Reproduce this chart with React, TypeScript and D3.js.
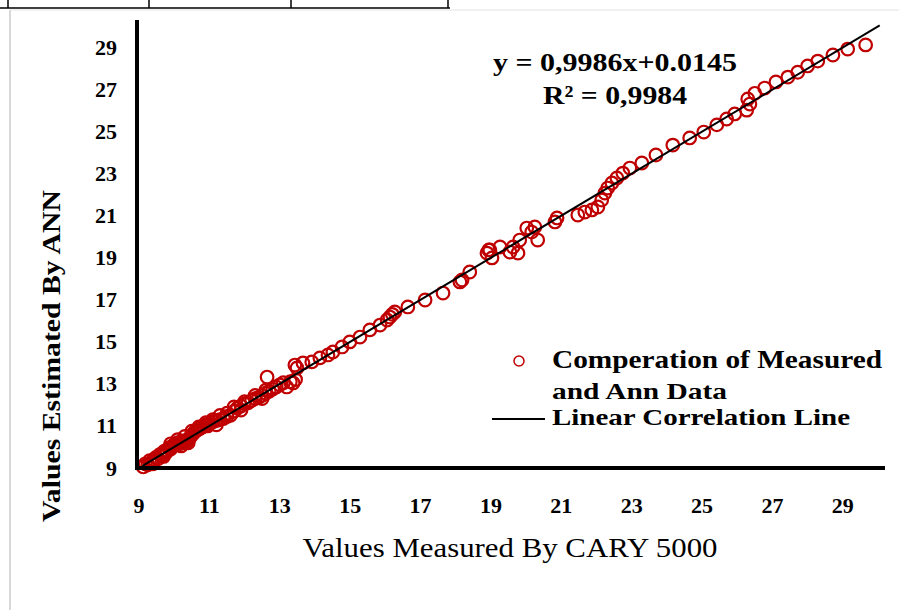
import React from "react";
import * as d3 from "d3";

const W = 899;
const H = 610;

const xTicks = [9, 11, 13, 15, 17, 19, 21, 23, 25, 27, 29];
const yTicks = [9, 11, 13, 15, 17, 19, 21, 23, 25, 27, 29];

const measured = [
  9.12, 9.18, 9.25, 9.3, 9.35, 9.42, 9.48, 9.55, 9.6, 9.66, 9.72, 9.78, 9.85, 9.9, 9.95, 10.0,
  10.05, 10.1, 10.15, 10.2, 10.25, 10.3, 10.35, 10.4, 10.45, 10.5, 10.55, 10.6, 10.65, 10.7,
  10.75, 10.8, 10.85, 10.9, 10.95, 11.0, 11.1, 11.2, 11.3, 11.4, 11.5, 11.6, 11.7, 11.8, 11.9,
  12.0, 12.1, 12.2, 12.3, 12.4, 12.5, 12.6, 12.7, 12.8, 12.9, 13.0, 13.1, 12.64, 13.2, 13.38,
  13.49, 13.43, 13.66, 13.91, 14.14, 14.37, 14.51, 14.77, 14.99, 15.28, 15.56, 15.85, 16.05,
  16.13, 16.27, 16.2, 16.64, 17.13, 17.64, 18.12, 18.18, 18.4, 18.89, 18.94, 18.97, 19.03,
  19.26, 19.54, 19.63, 19.77, 19.82, 20.02, 20.16, 20.25, 20.33, 20.82, 20.88, 21.47, 21.67,
  21.87, 22.04, 22.15, 22.24, 22.32, 22.44, 22.58, 22.75, 22.95, 23.29, 23.69, 24.17, 24.65,
  25.05, 25.42, 25.7, 25.93, 26.27, 26.36, 26.3, 26.5, 26.78, 27.1, 27.44, 27.72, 28.0, 28.29,
  28.72, 29.14, 29.65,
  9.9, 10.1, 10.3, 10.5, 10.7, 10.9, 11.1, 11.3, 11.5, 11.7, 12.0, 12.3, 12.6, 10.2, 10.4,
  9.7, 9.4, 11.2, 11.9, 12.5, 13.3, 13.45,
];

const estimated = [
  9.05, 9.2, 9.15, 9.35, 9.25, 9.4, 9.5, 9.45, 9.65, 9.6, 9.8, 9.75, 9.95, 9.9, 10.05, 10.1,
  10.15, 10.2, 10.15, 10.25, 10.2, 10.3, 10.25, 10.35, 10.45, 10.55, 10.65, 10.75, 10.8, 10.85,
  10.9, 10.95, 11.0, 11.05, 11.0, 11.1, 11.2, 11.25, 11.3, 11.35, 11.45, 11.5, 11.7, 11.85, 11.95,
  12.05, 12.1, 12.2, 12.3, 12.35, 12.45, 12.55, 12.65, 12.75, 12.85, 12.95, 13.05, 13.32, 12.85, 13.04,
  13.75, 13.89, 13.99, 14.04, 14.23, 14.37, 14.51, 14.75, 14.99, 15.22, 15.56, 15.79, 16.03,
  16.17, 16.41, 16.3, 16.65, 16.98, 17.31, 17.84, 17.93, 18.31, 19.21, 19.36, 19.36, 18.98,
  19.5, 19.26, 19.5, 19.21, 19.83, 20.4, 20.21, 20.45, 19.83, 20.69, 20.88, 21.02, 21.16,
  21.26, 21.4, 21.73, 22.06, 22.3, 22.54, 22.78, 23.01, 23.25, 23.49, 23.87, 24.34, 24.68,
  24.96, 25.3, 25.58, 25.82, 26.0, 26.29, 26.53, 26.8, 27.05, 27.34, 27.57, 27.8, 28.1, 28.33,
  28.62, 28.9, 29.1,
  10.15, 10.35, 10.5, 10.75, 10.95, 11.15, 11.3, 11.5, 11.6, 11.9, 12.15, 12.45, 12.7, 10.05, 10.2,
  9.55, 9.2, 11.05, 11.75, 12.3, 13.1, 13.2,
];

const slope = 0.9986;
const intercept = 0.0145;

const serif = "'Liberation Serif', 'Times New Roman', serif";

export default function App() {
  const left = 137;
  const bottom = 468;
  const x = d3.scaleLinear().domain([9, 30.2]).range([139, 885]);
  const y = d3.scaleLinear().domain([9, 29]).range([468, 47]);

  const lineGen = d3
    .line<number>()
    .x((d) => x(d))
    .y((d) => y(slope * d + intercept));
  const lineXs = [9.1, 30.05];

  return (
    <svg
      width={W}
      height={H}
      style={{ position: "absolute", left: 0, top: 0, background: "#fff" }}
      fontFamily={serif}
    >
      {/* table remnants at top */}
      <line x1={0} y1={8} x2={450} y2={8} stroke="#000" strokeWidth={1.5} />
      {[8, 149, 291, 448].map((px) => (
        <line key={px} x1={px} y1={0} x2={px} y2={8} stroke="#000" strokeWidth={1.5} />
      ))}
      <line x1={10} y1={10} x2={10} y2={610} stroke="#d8d8d8" strokeWidth={2} />
      <line x1={10} y1={10} x2={899} y2={10} stroke="#e4e4e4" strokeWidth={1} />

      {/* points */}
      {measured.map((m, i) => (
        <circle
          key={i}
          cx={x(m)}
          cy={y(estimated[i])}
          r={6.3}
          fill="none"
          stroke="#c00000"
          strokeWidth={2.2}
        />
      ))}

      {/* trend line */}
      <path d={lineGen(lineXs) || ""} stroke="#000" strokeWidth={2} fill="none" />

      {/* axes */}
      <line x1={left} y1={20} x2={left} y2={bottom + 2} stroke="#000" strokeWidth={4} />
      <line x1={left - 2} y1={bottom} x2={885} y2={bottom} stroke="#000" strokeWidth={4} />

      {/* y tick labels */}
      {yTicks.map((t) => (
        <text
          key={t}
          x={117}
          y={y(t) + 7.5}
          textAnchor="end"
          fontSize={22}
          fontWeight="bold"
        >
          {t}
        </text>
      ))}
      {/* x tick labels */}
      {xTicks.map((t) => (
        <text
          key={t}
          x={x(t)}
          y={513}
          textAnchor="middle"
          fontSize={22}
          fontWeight="bold"
        >
          {t}
        </text>
      ))}

      {/* axis titles */}
      <text
        x={510}
        y={557}
        textAnchor="middle"
        fontSize={27}
        textLength={415}
        lengthAdjust="spacingAndGlyphs"
      >
        Values Measured By CARY 5000
      </text>
      <text
        transform="translate(60,356) rotate(-90)"
        textAnchor="middle"
        fontSize={26}
        fontWeight="bold"
        textLength={332}
        lengthAdjust="spacingAndGlyphs"
      >
        Values Estimated By ANN
      </text>

      {/* equation */}
      <text x={493} y={71} fontSize={26} fontWeight="bold" textLength={244} lengthAdjust="spacingAndGlyphs">
        y = 0,9986x+0.0145
      </text>
      <text x={543} y={104} fontSize={26} fontWeight="bold" textLength={144} lengthAdjust="spacingAndGlyphs">
        R² = 0,9984
      </text>

      {/* legend */}
      <circle cx={519} cy={361} r={5} fill="none" stroke="#c00000" strokeWidth={1.5} />
      <text x={552} y={368} fontSize={25} fontWeight="bold" textLength={330} lengthAdjust="spacingAndGlyphs">
        Comperation of Measured
      </text>
      <text x={552} y={399} fontSize={24} fontWeight="bold" textLength={175} lengthAdjust="spacingAndGlyphs">
        and Ann Data
      </text>
      <line x1={492} y1={419} x2={545} y2={419} stroke="#000" strokeWidth={2} />
      <text x={552} y={425} fontSize={24} fontWeight="bold" textLength={298} lengthAdjust="spacingAndGlyphs">
        Linear Correlation Line
      </text>
    </svg>
  );
}
